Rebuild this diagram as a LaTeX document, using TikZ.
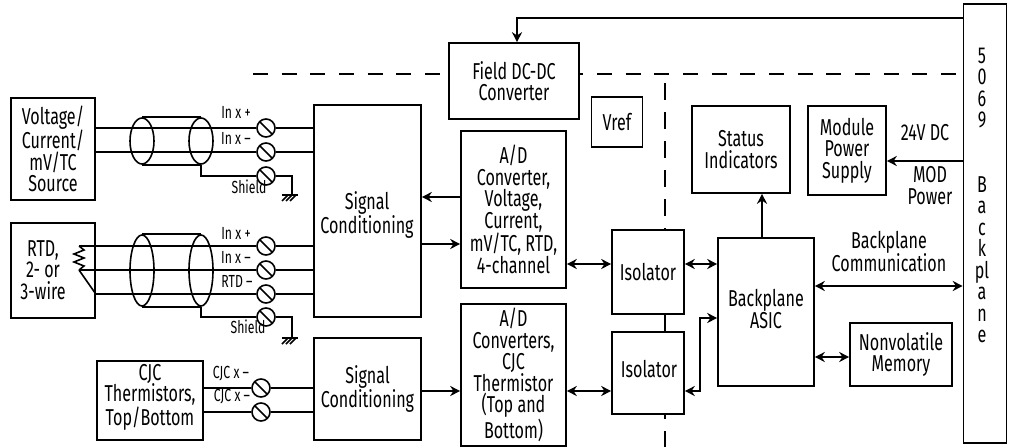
\documentclass[tikz,border=0pt]{standalone}
\usepackage{fontspec}
\setmainfont{Fira Sans}[FakeStretch=0.7]
\usetikzlibrary{shapes.geometric,arrows.meta,positioning,backgrounds}

\tikzset{
  blockbox/.style={draw, fill=white, align=center, inner sep=0pt},
  cablering/.style={draw, ellipse, inner sep=0pt, minimum width=24pt},
  terminal/.style={draw, circle, inner sep=0pt, minimum size=18pt,
    path picture={\draw (path picture bounding box.north west) -- (path picture bounding box.south east);}},
  tinylabel/.style={font=\fontsize{17.5}{18}\selectfont},
  arrowline/.style={-{Stealth[length=10pt,width=10pt]}},
  bothline/.style={{Stealth[length=10pt,width=10pt]}-{Stealth[length=10pt,width=10pt]}},
  pics/earthmark/.style={code={
    \draw (-10,0) -- (6,0);
    \draw (-4,0) -- (-10,6) (0,0) -- (-6,6) (4,0) -- (-2,6);
  }}
}

\begin{document}
\begin{tikzpicture}[x=1pt, y=-1pt, line width=1.6pt, font=\fontsize{23}{21.5}\selectfont]
  \useasboundingbox (0,0) rectangle (1013,447);

  % sources
  \node[blockbox, minimum width=84pt, minimum height=102pt] (volt) at (53,149)
    {Voltage/\\Current/\\mV/TC\\Source};
  \node[blockbox, minimum width=84pt, minimum height=95pt] (rtd) at (53,270.5) {};
  \node[align=center] (rtdtext) at (43,270) {RTD,\\2- or\\3-wire};
  \node[blockbox, minimum width=106pt, minimum height=79pt] (cjc) at (150,400.5) {};
  \node[align=center] (cjctext) at (150,397) {CJC\\Thermistors,\\Top/Bottom};

  % field side
  \node[blockbox, minimum width=107pt, minimum height=212pt] (signalone) at (367.5,211) {};
  \node[align=center] (signalonetext) at (367,215) {Signal\\Conditioning};
  \node[blockbox, minimum width=107pt, minimum height=102pt] (signaltwo) at (367.5,389)
    {Signal\\Conditioning};
  \node[blockbox, minimum width=105pt, minimum height=157pt] (adone) at (513.5,209.5)
    {A/D\\Converter,\\Voltage,\\Current,\\mV/TC, RTD,\\4-channel};
  \node[blockbox, minimum width=105pt, minimum height=142pt] (adtwo) at (513.5,375)
    {A/D\\Converters,\\CJC\\Thermistor\\(Top and\\Bottom)};
  \node[blockbox, minimum width=130pt, minimum height=76pt] (field) at (514,81)
    {Field DC-DC\\Converter};
  \node[blockbox, minimum width=51pt, minimum height=50pt] (vref) at (617,122) {Vref};
  \node[blockbox, minimum width=72pt, minimum height=84pt] (isoone) at (648,272) {Isolator};
  \node[blockbox, minimum width=72pt, minimum height=82pt] (isotwo) at (648,373) {};
  \node (isotwotext) at (649,369) {Isolator};

  % backplane side
  \node[blockbox, minimum width=96pt, minimum height=148pt] (asic) at (766,312) {};
  \node[align=center] (asictext) at (766,309) {Backplane\\ASIC};
  \node[blockbox, minimum width=98pt, minimum height=87pt] (status) at (741,149.5)
    {Status\\Indicators};
  \node[blockbox, minimum width=78pt, minimum height=89pt] (power) at (847,150.5)
    {Module\\Power\\Supply};
  \node[blockbox, minimum width=102pt, minimum height=63pt] (memory) at (901,354.5)
    {Nonvolatile\\Memory};
  \node[blockbox, minimum width=43pt, minimum height=439pt] (backplane) at (985,223.5) {};
  \node[align=center] (backplanetext) at (982,195.5)
    {5\\0\\6\\9\\ \\ \\B\\a\\c\\k\\pl\\a\\n\\e};

  % isolation lines
  \coordinate (dashleft) at (253,74);
  \coordinate (dashtop) at (665,83);
  \coordinate (dashbottom) at (665,447);
  \begin{scope}[on background layer]
    \draw[line width=1.6pt, dash pattern=on 15pt off 13.67pt] (dashleft) -- (backplane.west |- dashleft);
    \draw[line width=1.6pt, dash pattern=on 17pt off 12pt] (dashtop) -- (dashbottom);
  \end{scope}

  % terminals
  \node[terminal] (tvone) at (266,128) {};
  \node[terminal] (tvtwo) at (266,152) {};
  \node[terminal] (tvthree) at (266,176) {};
  \node[terminal] (trone) at (266,246) {};
  \node[terminal] (trtwo) at (266,270) {};
  \node[terminal] (trthree) at (266,294) {};
  \node[terminal] (trfour) at (266,317) {};
  \node[terminal] (tcone) at (261,388) {};
  \node[terminal] (tctwo) at (261,412) {};

  % cables
  \node[cablering, minimum height=46pt] (cableoneleft) at (142,141) {};
  \node[cablering, minimum height=46pt] (cableoneright) at (201,141) {};
  \node[cablering, minimum height=71pt] (cabletwoleft) at (142,270.5) {};
  \node[cablering, minimum height=71pt] (cabletworight) at (201,270.5) {};
  \draw (cableoneleft.north) -- (cableoneright.north);
  \draw (cableoneleft.south) -- (cableoneright.south);
  \draw (cabletwoleft.north) -- (cabletworight.north);
  \draw (cabletwoleft.south) -- (cabletworight.south);

  % wiring, voltage source
  \draw (volt.east |- tvone) -- (tvone) (tvone) -- (signalone.west |- tvone);
  \draw (volt.east |- tvtwo) -- (tvtwo) (tvtwo) -- (signalone.west |- tvtwo);
  \coordinate (earthone) at (292,195);
  \draw (cableoneright.south) |- (tvthree);
  \draw (tvthree) -| (earthone);
  \pic at (earthone) {earthmark};

  % wiring, RTD
  \coordinate (rtdupper) at (79,246);
  \coordinate (rtdlower) at (79,270);
  \draw (rtdupper) -- (trone) (trone) -- (signalone.west |- trone);
  \draw (rtdlower) -- (trtwo) (trtwo) -- (signalone.west |- trtwo);
  \draw (rtdlower) -- (rtd.east |- trthree) -- (trthree);
  \draw (trthree) -- (signalone.west |- trthree);
  \draw (rtdupper) -- ++(5,4) -- ++(-10,4) -- ++(10,4) -- ++(-10,4) -- ++(10,4) -- (rtdlower);
  \coordinate (earthtwo) at (292,338);
  \draw (cabletworight.south) |- (trfour);
  \draw (trfour) -| (earthtwo);
  \pic at (earthtwo) {earthmark};

  % wiring, CJC
  \draw (cjc.east |- tcone) -- (tcone) (tcone) -- (signaltwo.west |- tcone);
  \draw (cjc.east |- tctwo) -- (tctwo) (tctwo) -- (signaltwo.west |- tctwo);

  % terminal labels
  \node[tinylabel] (inva) at (236,112) {In x +};
  \node[tinylabel] (invb) at (236,138) {In x --};
  \node[tinylabel] (shieldone) at (249,187) {Shield};
  \node[tinylabel] (inra) at (236,233) {In x +};
  \node[tinylabel] (inrb) at (236,257) {In x --};
  \node[tinylabel] (inrc) at (237,281) {RTD --};
  \node[tinylabel] (shieldtwo) at (248,327) {Shield};
  \node[tinylabel] (cjca) at (231,374) {CJC x --};
  \node[tinylabel] (cjcb) at (232,397) {CJC x --};

  % signal paths
  \coordinate (adback) at (0,197);
  \coordinate (adforward) at (0,244);
  \coordinate (adiso) at (0,264);
  \coordinate (cjciso) at (0,391);
  \coordinate (asicjog) at (700,318);
  \draw[arrowline] (adone.west |- adback) -- (signalone.east |- adback);
  \draw[arrowline] (signalone.east |- adforward) -- (adone.west |- adforward);
  \draw[bothline] (adone.east |- adiso) -- (isoone.west |- adiso);
  \draw[arrowline] (signaltwo.east |- cjciso) -- (adtwo.west |- cjciso);
  \draw[bothline] (adtwo.east |- cjciso) -- (isotwo.west |- cjciso);
  \draw[bothline] (isoone.east |- adiso) -- (asic.west |- adiso);
  \draw[bothline] (isotwo.east |- cjciso) -| (asicjog) -- (asic.west |- asicjog);

  % backplane paths
  \coordinate (fieldfeed) at (517,18);
  \coordinate (modpower) at (0,161);
  \coordinate (backcomm) at (0,286);
  \coordinate (memlink) at (0,357);
  \coordinate (statuslink) at (762,238);
  \draw[arrowline] (backplane.west |- fieldfeed) -- (fieldfeed) -- (fieldfeed |- field.north);
  \draw[arrowline] (backplane.west |- modpower) -- (power.east |- modpower);
  \draw[arrowline] (statuslink) -- (statuslink |- status.south);
  \draw[bothline] (asic.east |- backcomm) -- (backplane.west |- backcomm);
  \draw[bothline] (asic.east |- memlink) -- (memory.west |- memlink);

  % free labels
  \node (dcvolts) at (925,133) {24V DC};
  \node[align=center] (modlabel) at (930,185.5) {MOD\\Power};
  \node[align=center] (commlabel) at (889,251.5) {Backplane\\Communication};
\end{tikzpicture}
\end{document}
